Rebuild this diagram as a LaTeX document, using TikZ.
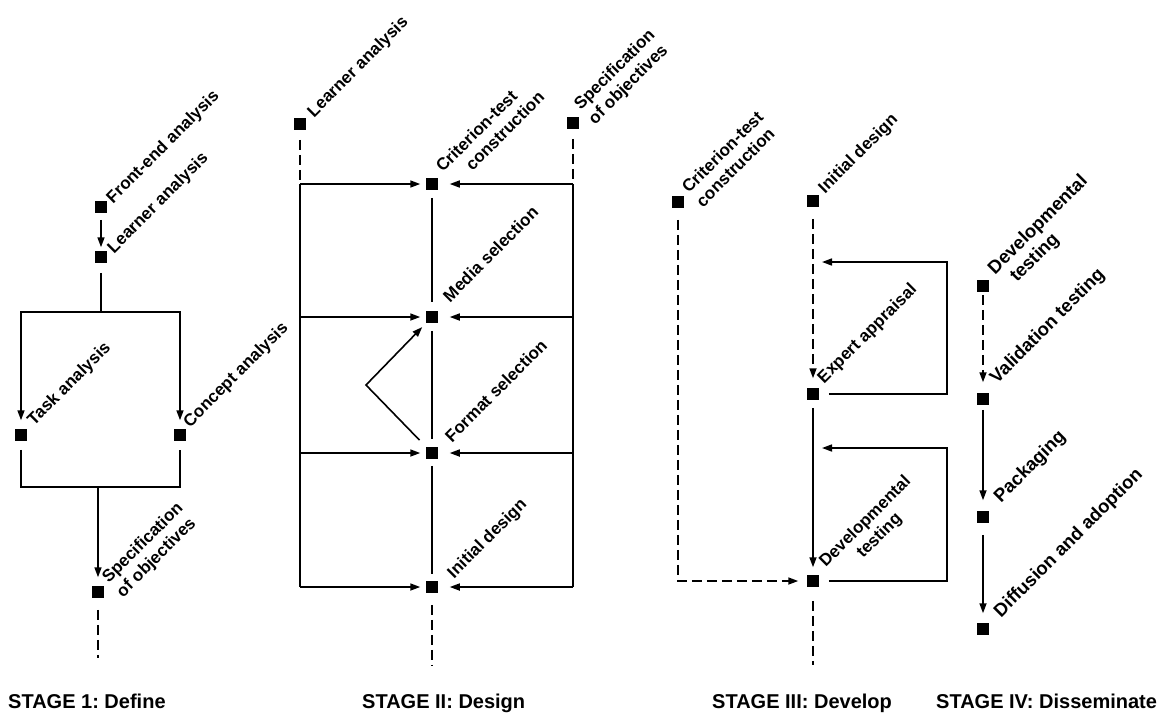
\documentclass[tikz,border=0pt]{standalone}
\usepackage{fontspec}
\setmainfont{Liberation Sans}
\usetikzlibrary{arrows.meta}
\frenchspacing
\begin{document}
\begin{tikzpicture}[x=1pt,y=-1pt,
  sq/.style={fill=black,minimum size=11.5pt,inner sep=0pt,outer sep=0pt},
  lbl/.style={rotate=45,anchor=base west,inner sep=0pt,outer sep=0pt,font=\bfseries\fontsize{17}{20}\selectfont,align=left},
  lblb/.style={lbl,font=\bfseries\fontsize{18.5}{21}\selectfont},
  stg/.style={anchor=base west,inner sep=0pt,font=\bfseries\fontsize{20}{24}\selectfont},
  ln/.style={line width=1.6pt},
  arr/.style={ln,-{Triangle[length=10pt,width=7pt]}},
  dsh/.style={dash pattern=on 10pt off 5pt}]
\fill[white] (0,0) rectangle (1161,716);
\useasboundingbox (0,0) rectangle (1161,716);

% ---------- Stage 1 ----------
\node[sq] (fe) at (101,207) {};
\node[sq] (la) at (101,257) {};
\node[sq] (ta) at (21,435) {};
\node[sq] (ca) at (180,435) {};
\node[sq] (so) at (98,592) {};
\coordinate (c1) at (101,312);
\coordinate (c1l) at (21,312);
\coordinate (c1r) at (180,312);
\coordinate (c2) at (98,487);
\coordinate (c2l) at (21,487);
\coordinate (c2r) at (180,487);
\coordinate (e1) at (98,658);

\node[lbl] (fel) at (113,204) {Front-end analysis};
\node[lbl] (lal) at (114,254) {Learner analysis};
\node[lbl] (tal) at (34,426) {Task analysis};
\node[lbl] (cal) at (190,428) {Concept analysis};
\node[lbl] (sol) at (123,598) {Specification\\of objectives};

\draw[arr,shorten <=7pt,shorten >=4pt] (fe) -- (la);
\draw[ln,shorten <=10pt] (la) -- (c1);
\draw[arr,shorten >=9pt] (c1) -- (c1l) -- (ta);
\draw[arr,shorten >=9pt] (c1) -- (c1r) -- (ca);
\draw[ln,shorten <=9pt,shorten >=9pt] (ta) -- (c2l) -- (c2r) -- (ca);
\draw[arr,shorten >=9pt] (c2) -- (so);
\draw[ln,dsh,shorten <=12pt] (so) -- (e1);

% ---------- Stage 2 ----------
\node[sq] (la2) at (300,124) {};
\node[sq] (so2) at (573,123) {};
\node[sq] (ct) at (432,184) {};
\node[sq] (ms) at (432,317) {};
\node[sq] (fs) at (432,453) {};
\node[sq] (id) at (432,587) {};
\coordinate (L1) at (300,184);
\coordinate (L2) at (300,317);
\coordinate (L3) at (300,453);
\coordinate (L4) at (300,587);
\coordinate (R1) at (573,184);
\coordinate (R2) at (573,317);
\coordinate (R3) at (573,453);
\coordinate (R4) at (573,587);
\coordinate (apex) at (366,385);
\coordinate (e2) at (432,665);

\node[lbl] (la2l) at (314,118) {Learner analysis};
\node[lbl] (ctl) at (457,187) {Criterion-test\\\hspace*{22pt}construction};
\node[lbl] (so2l) at (595,125) {Specification\\of objectives};
\node[lbl] (msl) at (450,303) {Media selection};
\node[lbl] (fsl) at (452,443) {Format selection};
\node[lbl] (idl) at (454,579) {Initial design};

\draw[ln,dsh,shorten <=10pt] (la2) -- (L1);
\draw[ln,dsh,shorten <=10pt] (so2) -- (R1);
\draw[ln] (L1) -- (L4);
\draw[ln] (R1) -- (R4);
\draw[arr,shorten >=6pt] (L1) -- (ct);
\draw[arr,shorten >=6pt] (L2) -- (ms);
\draw[arr,shorten >=6pt] (L3) -- (fs);
\draw[arr,shorten >=6pt] (L4) -- (id);
\draw[arr,shorten >=12pt] (R1) -- (ct);
\draw[arr,shorten >=12pt] (R2) -- (ms);
\draw[arr,shorten >=12pt] (R3) -- (fs);
\draw[arr,shorten >=12pt] (R4) -- (id);
\draw[ln,shorten <=8pt,shorten >=9pt] (ct) -- (ms);
\draw[ln,shorten <=8pt,shorten >=8pt] (ms) -- (fs);
\draw[ln,shorten <=7pt,shorten >=7pt] (fs) -- (id);
\draw[ln,dsh,shorten <=12pt] (id) -- (e2);
\draw[arr,shorten <=10pt,shorten >=6pt] (fs) -- (apex) -- (ms);

% ---------- Stage 3 ----------
\node[sq] (ct3) at (678,202) {};
\node[sq] (id3) at (813,201) {};
\node[sq] (ea) at (813,394) {};
\node[sq] (dt) at (813,581) {};
\coordinate (k1) at (678,581);
\coordinate (r1a) at (947,394);
\coordinate (r1b) at (947,262);
\coordinate (j1) at (813,262);
\coordinate (r2a) at (947,581);
\coordinate (r2b) at (947,448);
\coordinate (j2) at (813,448);
\coordinate (e3) at (813,665);

\node[lbl] (ct3l) at (703,208) {Criterion-test\\construction};
\node[lbl] (id3l) at (825,194) {Initial design};
\node[lbl] (eal) at (824,384) {Expert appraisal};
\node[lbl,align=center] (dtl) at (840,582) {Developmental\\testing};

\draw[arr,dsh,shorten <=12pt,shorten >=9pt] (ct3) -- (k1) -- (dt);
\draw[arr,dsh,shorten <=12pt,shorten >=10pt] (id3) -- (ea);
\draw[arr,shorten <=10pt,shorten >=9pt] (ea) -- (r1a) -- (r1b) -- (j1);
\draw[arr,shorten <=8pt,shorten >=8pt] (ea) -- (dt);
\draw[arr,shorten <=10pt,shorten >=9pt] (dt) -- (r2a) -- (r2b) -- (j2);
\draw[ln,dsh,shorten <=14pt] (dt) -- (e3);

% ---------- Stage 4 ----------
\node[sq] (dv) at (983,286) {};
\node[sq] (vt) at (983,399) {};
\node[sq] (pk) at (983,517) {};
\node[sq] (da) at (983,629) {};

\node[lblb] (dvl) at (1010,290) {Developmental\\\hspace*{10pt}testing};
\node[lblb] (vtl) at (997,384) {Validation testing};
\node[lblb] (pkl) at (1001,503) {Packaging};
\node[lblb] (dal) at (1001,618) {Diffusion and adoption};

\draw[arr,dsh,shorten <=3pt,shorten >=11pt] (dv) -- (vt);
\draw[arr,shorten <=5pt,shorten >=11pt] (vt) -- (pk);
\draw[arr,shorten <=12pt,shorten >=10pt] (pk) -- (da);

% ---------- Stage titles ----------
\node[stg] (s1) at (8,708) {STAGE 1: Define};
\node[stg] (s2) at (362,708) {STAGE II: Design};
\node[stg] (s3) at (712,708) {STAGE III: Develop};
\node[stg] (s4) at (936,708) {STAGE IV: Disseminate};
\end{tikzpicture}
\end{document}
